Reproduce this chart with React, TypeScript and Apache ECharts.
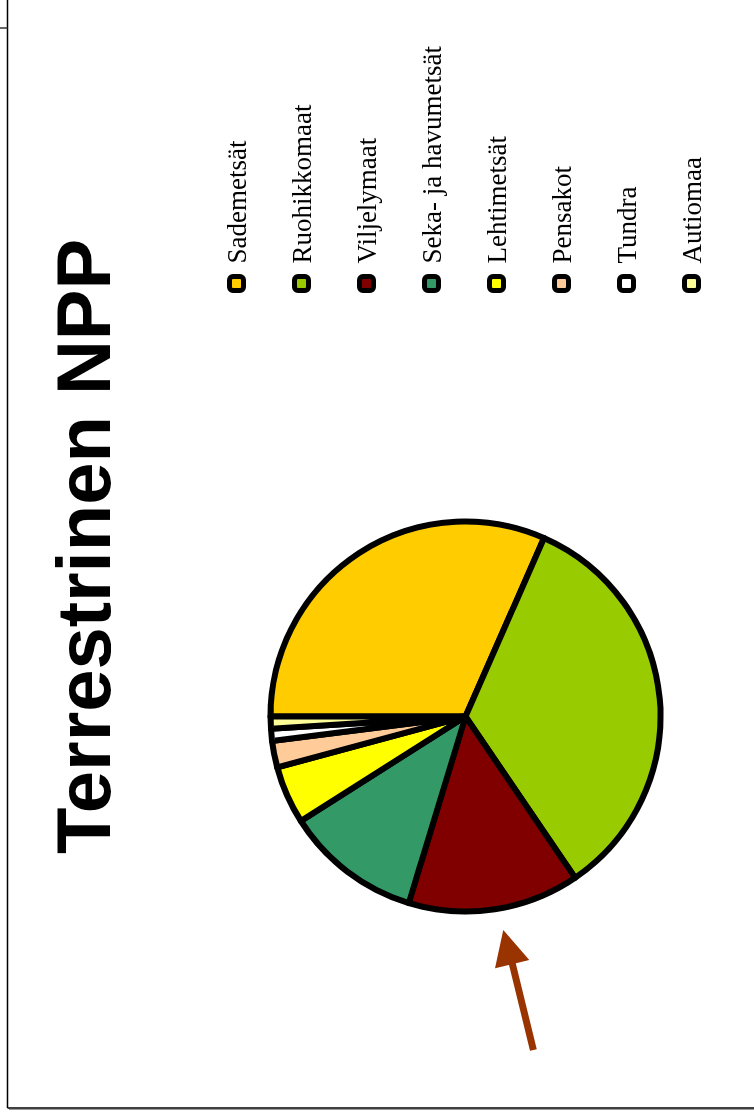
import React, { useEffect, useRef } from "react";
import * as echarts from "echarts";

const titleText = "Terrestrinen NPP";
const categories = [
  "Sademetsät",
  "Ruohikkomaat",
  "Viljelymaat",
  "Seka- ja havumetsät",
  "Lehtimetsät",
  "Pensakot",
  "Tundra",
  "Autiomaa",
];
const shares = [31.6, 33.9, 14.2, 11.3, 4.8, 2.2, 1.0, 1.0];
const colors = ["#FFCC00", "#99CC00", "#800000", "#339966", "#FFFF00", "#FFCC99", "#FFFFFF", "#FFFF99"];

// Chart is drawn in an unrotated 1119x754 frame, then rotated -90deg onto the page.
const W = 1119;
const H = 754;

export default function App() {
  const ref = useRef<HTMLDivElement>(null);
  useEffect(() => {
    if (!ref.current) return;
    const chart = echarts.init(ref.current, null, { renderer: "svg" });
    const option: any = {
      animation: false,
      backgroundColor: "#ffffff",
      title: {
        text: titleText,
        left: 260,
        top: 40,
        textStyle: {
          fontFamily: "Liberation Sans, Arial, sans-serif",
          fontWeight: "bold",
          fontSize: 76,
          color: "#000000",
        },
      },
      legend: {
        orient: "vertical",
        left: 821,
        top: 218,
        itemWidth: 14,
        itemHeight: 14,
        itemGap: 38,
        icon: "roundRect",
        selectedMode: false,
        itemStyle: { borderColor: "#000000", borderWidth: 5 },
        textStyle: {
          fontFamily: "Liberation Serif, Times New Roman, serif",
          fontSize: 27,
          lineHeight: 27,
          color: "#000000",
          padding: [0, 0, 0, 8],
        },
        data: categories,
      },
      series: [
        {
          type: "pie",
          center: [402.5, 465.5],
          radius: 195,
          startAngle: 90,
          clockwise: true,
          silent: true,
          label: { show: false },
          labelLine: { show: false },
          itemStyle: { borderColor: "#000000", borderWidth: 6 },
          data: categories.map((name, i) => ({
            name,
            value: shares[i],
            itemStyle: { color: colors[i] },
          })),
        },
      ],
      graphic: [
        // page frame
        { type: "line", shape: { x1: 11, y1: 7.5, x2: 11, y2: H }, style: { stroke: "#000", lineWidth: 1.5 } },
        { type: "line", shape: { x1: 9.5, y1: 9, x2: 9.5, y2: H }, style: { stroke: "#999", lineWidth: 1 } },
        { type: "line", shape: { x1: 11, y1: 7.5, x2: W, y2: 7.5 }, style: { stroke: "#000", lineWidth: 1.5 } },
        { type: "line", shape: { x1: 1091, y1: 0, x2: 1091, y2: 7.5 }, style: { stroke: "#333", lineWidth: 1.5 } },
        // arrow
        {
          type: "line",
          shape: { x1: 69, y1: 533.3, x2: 156, y2: 512.2 },
          style: { stroke: "#993300", lineWidth: 7 },
        },
        {
          type: "polygon",
          shape: { points: [[189, 503.3], [150.7, 495], [159, 529.3]] },
          style: { fill: "#993300" },
        },
      ],
    };
    chart.setOption(option);
    return () => chart.dispose();
  }, []);
  return (
    <div
      ref={ref}
      style={{
        position: "fixed",
        left: 0,
        top: 0,
        width: W,
        height: H,
        transformOrigin: "0 0",
        transform: `translate(0px, ${W}px) rotate(-90deg)`,
      }}
    />
  );
}
